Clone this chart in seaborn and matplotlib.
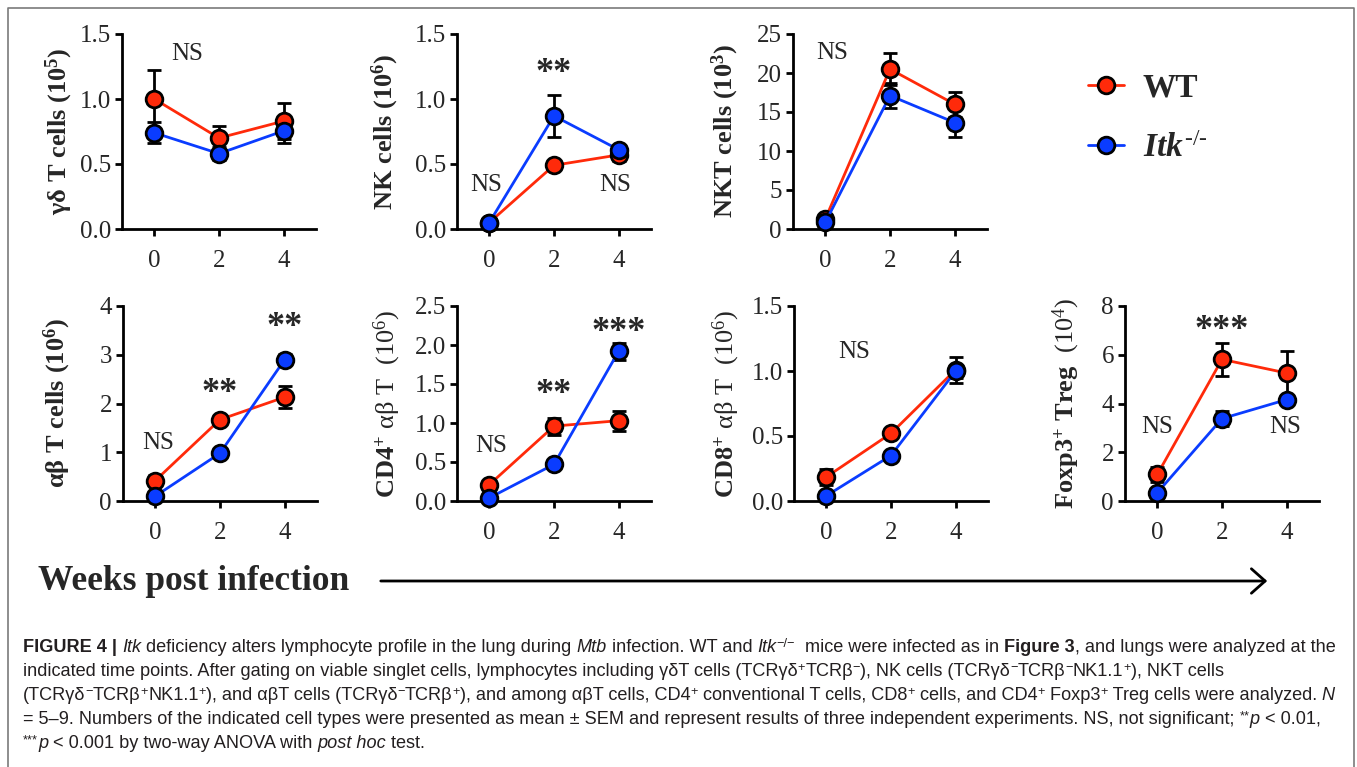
import numpy as np
import pandas as pd
import matplotlib
matplotlib.use("Agg")
import matplotlib.pyplot as plt
import seaborn as sns
from matplotlib.lines import Line2D
from matplotlib.patches import FancyArrowPatch
from matplotlib.ticker import FormatStrFormatter

# --- data, mean and SEM per time point ---
weeks = [0, 2, 4]

gd_wt = [1.00, 0.70, 0.83]
gd_wt_sem = [0.22, 0.09, 0.14]
gd_ko = [0.74, 0.58, 0.755]
gd_ko_sem = [0.08, 0.05, 0.09]

nk_wt = [0.05, 0.49, 0.57]
nk_wt_sem = [0.02, 0.03, 0.05]
nk_ko = [0.05, 0.87, 0.61]
nk_ko_sem = [0.02, 0.16, 0.04]

nkt_wt = [1.3, 20.5, 16.0]
nkt_wt_sem = [0.4, 2.1, 1.6]
nkt_ko = [0.85, 17.1, 13.65]
nkt_ko_sem = [0.3, 1.6, 1.9]

ab_wt = [0.42, 1.67, 2.13]
ab_wt_sem = [0.12, 0.10, 0.23]
ab_ko = [0.10, 0.98, 2.90]
ab_ko_sem = [0.04, 0.05, 0.12]

cd4_wt = [0.21, 0.96, 1.03]
cd4_wt_sem = [0.04, 0.11, 0.13]
cd4_ko = [0.04, 0.47, 1.92]
cd4_ko_sem = [0.02, 0.03, 0.11]

cd8_wt = [0.185, 0.52, 1.01]
cd8_wt_sem = [0.06, 0.02, 0.10]
cd8_ko = [0.04, 0.35, 1.00]
cd8_ko_sem = [0.02, 0.02, 0.05]

treg_wt = [1.09, 5.81, 5.25]
treg_wt_sem = [0.30, 0.67, 0.89]
treg_ko = [0.34, 3.38, 4.16]
treg_ko_sem = [0.12, 0.30, 0.15]

groups = ["WT", "Itk"]
group_labels = ["WT", r"$Itk^{\text{-/-}}$"]

RED = "#ff2a0a"
BLUE = "#0a3cff"

W, H, DPI = 1357, 767, 100

sns.set_style("ticks")
plt.rcParams["font.family"] = ["Liberation Serif", "DejaVu Serif"]
plt.rcParams["mathtext.fontset"] = "custom"
plt.rcParams["mathtext.rm"] = "Liberation Serif"
plt.rcParams["mathtext.bf"] = "Liberation Serif:bold"
plt.rcParams["mathtext.it"] = "Liberation Serif:italic:bold"

fig = plt.figure(figsize=(W / DPI, H / DPI), dpi=DPI)


def px_axes(left, top, w=194, h=195):
    return [left / W, 1 - (top + h) / H, w / W, h / H]


panels = [
    dict(pos=(122, 34), wt=gd_wt, wt_e=gd_wt_sem, ko=gd_ko, ko_e=gd_ko_sem,
         ymax=1.5, step=0.5, fmt="%.1f", labx=-0.24,
         ylabel=r"$\mathbf{γδ\ T\ cells\ (10^{5})}$",
         notes=[(1.0, 1.35, "NS")]),
    dict(pos=(457, 34), wt=nk_wt, wt_e=nk_wt_sem, ko=nk_ko, ko_e=nk_ko_sem,
         ymax=1.5, step=0.5, fmt="%.1f", labx=-0.29,
         ylabel=r"$\mathbf{NK\ cells\ (10^{6})}$",
         notes=[(2.0, 1.20, "**"), (-0.1, 0.34, "NS"), (3.9, 0.34, "NS")]),
    dict(pos=(793, 34), wt=nkt_wt, wt_e=nkt_wt_sem, ko=nkt_ko, ko_e=nkt_ko_sem,
         ymax=25, step=5, fmt="%d", labx=-0.27,
         ylabel=r"$\mathbf{NKT\ cells\ (10^{3})}$",
         notes=[(0.2, 22.6, "NS")]),
    dict(pos=(123, 306), wt=ab_wt, wt_e=ab_wt_sem, ko=ab_ko, ko_e=ab_ko_sem,
         ymax=4, step=1, fmt="%d", labx=-0.26,
         ylabel=r"$\mathbf{αβ\ T\ cells\ (10^{6})}$",
         notes=[(0.1, 1.18, "NS"), (2.0, 2.20, "**"), (4.0, 3.55, "**")]),
    dict(pos=(457, 306), wt=cd4_wt, wt_e=cd4_wt_sem, ko=cd4_ko, ko_e=cd4_ko_sem,
         ymax=2.5, step=0.5, fmt="%.1f", labx=-0.28,
         ylabel=r"$\mathbf{CD4^{+}}\ \mathrm{αβ\ T\ \ (10^{6})}$",
         notes=[(0.05, 0.71, "NS"), (2.0, 1.36, "**"), (4.0, 2.16, "***")]),
    dict(pos=(794, 306), wt=cd8_wt, wt_e=cd8_wt_sem, ko=cd8_ko, ko_e=cd8_ko_sem,
         ymax=1.5, step=0.5, fmt="%.1f", labx=-0.27,
         ylabel=r"$\mathbf{CD8^{+}}\ \mathrm{αβ\ T\ \ (10^{6})}$",
         notes=[(0.85, 1.15, "NS")]),
    dict(pos=(1125, 306), wt=treg_wt, wt_e=treg_wt_sem, ko=treg_ko, ko_e=treg_ko_sem,
         ymax=8, step=2, fmt="%d", labx=-0.22,
         ylabel=r"$\mathbf{Foxp3^{+}\ Treg}\ \ \mathrm{(10^{4})}$",
         notes=[(0.0, 3.04, "NS"), (2.0, 7.0, "***"), (3.96, 3.04, "NS")]),
]

for p in panels:
    ax = fig.add_axes(px_axes(*p["pos"]))
    df = pd.DataFrame({
        "week": weeks * 2,
        "value": list(p["wt"]) + list(p["ko"]),
        "group": [groups[0]] * 3 + [groups[1]] * 3,
    })
    # error bars first so the symbols sit on top
    ax.errorbar(weeks, p["wt"], yerr=p["wt_e"], fmt="none", ecolor="black",
                elinewidth=2, capsize=5, capthick=2, zorder=2, clip_on=False)
    ax.errorbar(weeks, p["ko"], yerr=p["ko_e"], fmt="none", ecolor="black",
                elinewidth=2, capsize=5, capthick=2, zorder=2, clip_on=False)
    sns.lineplot(data=df, x="week", y="value", hue="group", hue_order=groups,
                 palette={"WT": RED, "Itk": BLUE}, marker="o", markersize=12,
                 markeredgecolor="black", markeredgewidth=2, linewidth=2,
                 errorbar=None, legend=False, ax=ax, zorder=3)
    for ln in ax.lines:
        ln.set_clip_on(False)

    ax.set_xlim(-1, 5)
    ax.set_ylim(0, p["ymax"])
    ax.set_xticks(weeks)
    ax.set_yticks(np.arange(0, p["ymax"] + p["step"] / 2, p["step"]))
    ax.yaxis.set_major_formatter(FormatStrFormatter(p["fmt"]))
    ax.set_xlabel("")
    ax.set_ylabel(p["ylabel"], fontsize=19)
    ax.yaxis.set_label_coords(p["labx"], 0.5)
    sns.despine(ax=ax)
    for s in ("left", "bottom"):
        ax.spines[s].set_linewidth(2)
        ax.spines[s].set_color("black")
    ax.tick_params(axis="both", direction="out", length=5, width=2,
                   labelsize=18, pad=3, color="black")
    ax.tick_params(axis="x", pad=10)
    ax.set_facecolor("none")

    for nx, ny, txt in p["notes"]:
        if txt.startswith("*"):
            ax.text(nx, ny, txt, ha="center", va="center", fontsize=26,
                    fontweight="bold")
        else:
            ax.text(nx, ny, txt, ha="center", va="center", fontsize=18)

# legend
handles = [
    Line2D([], [], color=RED, marker="o", markerfacecolor=RED, markeredgecolor="black",
           markersize=12, markeredgewidth=2, linewidth=2),
    Line2D([], [], color=BLUE, marker="o", markerfacecolor=BLUE, markeredgecolor="black",
           markersize=12, markeredgewidth=2, linewidth=2),
]
fig.legend(handles, group_labels, loc="upper left",
           bbox_to_anchor=(1071 / W, 1 - 56 / H), frameon=False, borderpad=0,
           handlelength=1.1, handletextpad=0.55, labelspacing=0.88,
           prop=dict(family="Liberation Serif", weight="bold", size=24))

# x axis note and arrow
fig.text(38 / W, 1 - 581 / H, "Weeks post infection", ha="left", va="center",
         fontsize=25.5, fontweight="bold")
fig.add_artist(FancyArrowPatch((378 / W, 1 - 581 / H), (1270 / W, 1 - 581 / H),
                               transform=fig.transFigure,
                               arrowstyle="->,head_length=0.45,head_width=0.4",
                               mutation_scale=22, lw=2, color="black"))

# frame
fig.add_artist(Line2D([8 / W, 8 / W, 1354 / W, 1354 / W], [0, 1 - 8 / H, 1 - 8 / H, 0],
                      transform=fig.transFigure, color="#7a7a7a", lw=1.2))

# caption, drawn piece by piece to mix styles
rend = fig.canvas.get_renderer()
cap_base = dict(family=["Liberation Sans", "DejaVu Sans"], fontsize=13.1, color="#231f20")
cap_styles = {
    "n": {},
    "b": {"fontweight": "bold"},
    "i": {"fontstyle": "italic"},
    "s": {"fontsize": 9.2},
}


def text_w(s, props):
    t = fig.text(0, 0, s, **props)
    w = t.get_window_extent(renderer=rend).width
    t.remove()
    return w


def rich_line(x_px, y_px, parts):
    x = x_px
    for s, st in parts:
        props = dict(cap_base)
        props.update(cap_styles[st])
        dy = 5 if st == "s" else 0
        fig.text(x / W, 1 - (y_px - dy) / H, s, ha="left", va="baseline", **props)
        x += text_w(s + "|", props) - text_w("|", props)


caption = [
    [("FIGURE 4 | ", "b"), ("Itk", "i"), (" deficiency alters lymphocyte profile in the lung during ", "n"),
     ("Mtb", "i"), (" infection. WT and ", "n"), ("Itk", "i"), ("−/−", "s"),
     ("  mice were infected as in ", "n"), ("Figure 3", "b"), (", and lungs were analyzed at the", "n")],
    [("indicated time points. After gating on viable singlet cells, lymphocytes including γδT cells (TCRγδ", "n"),
     ("+", "s"), ("TCRβ", "n"), ("−", "s"), ("), NK cells (TCRγδ", "n"), ("−", "s"), ("TCRβ", "n"),
     ("−", "s"), ("NK1.1", "n"), ("+", "s"), ("), NKT cells", "n")],
    [("(TCRγδ", "n"), ("−", "s"), ("TCRβ", "n"), ("+", "s"), ("NK1.1", "n"), ("+", "s"),
     ("), and αβT cells (TCRγδ", "n"), ("−", "s"), ("TCRβ", "n"), ("+", "s"),
     ("), and among αβT cells, CD4", "n"), ("+", "s"), (" conventional T cells, CD8", "n"), ("+", "s"),
     (" cells, and CD4", "n"), ("+", "s"), (" Foxp3", "n"), ("+", "s"),
     (" Treg cells were analyzed. ", "n"), ("N", "i")],
    [("= 5–9. Numbers of the indicated cell types were presented as mean ± SEM and represent results "
      "of three independent experiments. NS, not significant; ", "n"), ("**", "s"), ("p", "i"),
     (" < 0.01,", "n")],
    [("***", "s"), ("p", "i"), (" < 0.001 by two-way ANOVA with ", "n"), ("post hoc", "i"), (" test.", "n")],
]
for k, parts in enumerate(caption):
    rich_line(23, 652 + 24 * k, parts)

fig.savefig("out.png", dpi=DPI)
